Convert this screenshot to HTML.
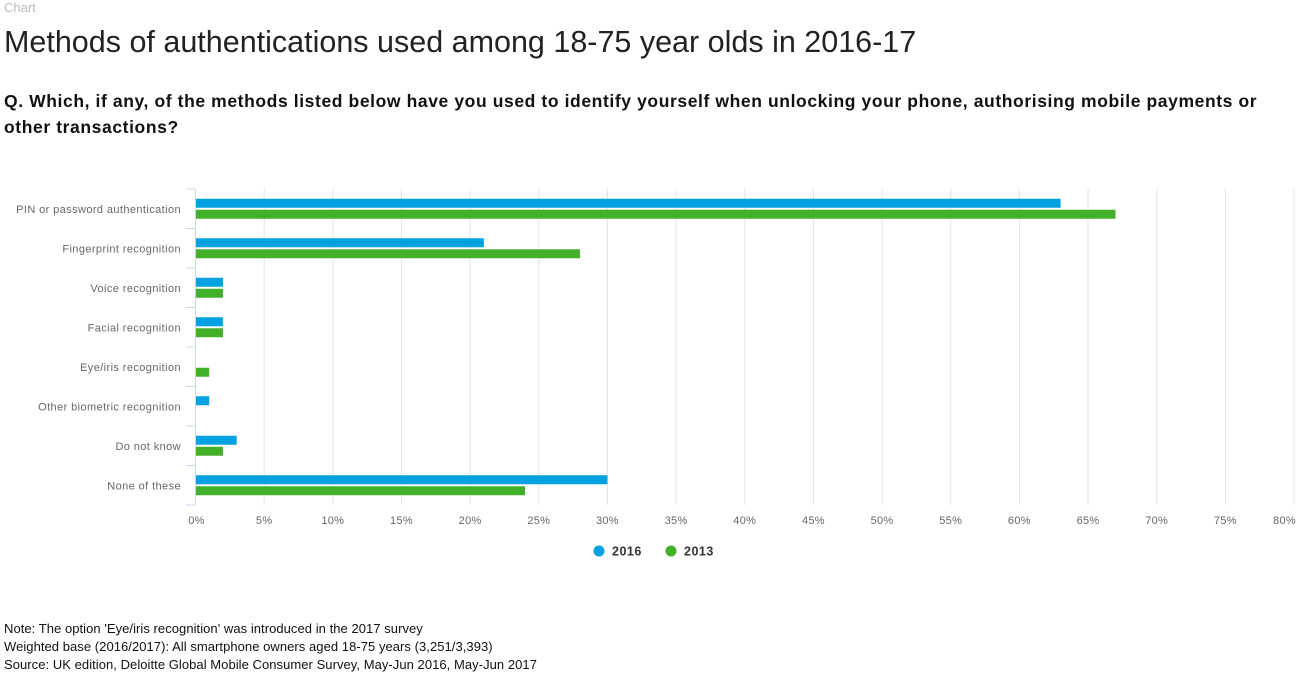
<!DOCTYPE html>
<html><head><meta charset="utf-8"><style>
body{margin:0;width:1300px;height:674px;background:#fff;font-family:"Liberation Sans",sans-serif;position:relative;overflow:hidden}
.a{position:absolute;white-space:nowrap}
</style></head><body>
<div class="a" style="left:4px;top:0px;font-size:13px;color:#bbb">Chart</div>
<div class="a" style="left:4px;top:25px;font-size:30.5px;color:#222">Methods of authentications used among 18-75 year olds in 2016-17</div>
<div class="a" style="left:4px;top:88px;font-size:17.5px;letter-spacing:0.6px;font-weight:bold;color:#111;line-height:26px;white-space:normal;width:1268px">Q. Which, if any, of the methods listed below have you used to identify yourself when unlocking your phone, authorising mobile payments or other transactions?</div>
<svg class="a" style="left:0;top:0" width="1300" height="674">
<g id="g"></g></svg>
<div class="a" style="left:4px;top:620px;font-size:13px;letter-spacing:0.05px;color:#111;line-height:18px">Note: The option 'Eye/iris recognition' was introduced in the 2017 survey<br>Weighted base (2016/2017): All smartphone owners aged 18-75 years (3,251/3,393)<br>Source: UK edition, Deloitte Global Mobile Consumer Survey, May-Jun 2016, May-Jun 2017</div>
<script>
const categories=["PIN or password authentication","Fingerprint recognition","Voice recognition","Facial recognition","Eye/iris recognition","Other biometric recognition","Do not know","None of these"];
const series2016=[63,21,2,2,null,1,3,30];
const series2013=[67,28,2,2,1,null,2,24];
const ticks=[0,5,10,15,20,25,30,35,40,45,50,55,60,65,70,75,80];
const seriesNames=["2016","2013"];
const colors=["#00a1e0","#43b02a"];
const X0=195.5,X1=1294,Y0=189,Y1=505,MAX=80;
const x=v=>X0+(X1-X0)*v/MAX;
const band=(Y1-Y0)/categories.length;
const y=i=>Y0+band*i;
const g=document.getElementById('g');const NS="http://www.w3.org/2000/svg";
function mk(t,a,txt){const e=document.createElementNS(NS,t);for(const k in a)e.setAttribute(k,a[k]);if(txt!=null)e.textContent=txt;g.appendChild(e);return e;}
ticks.forEach((t,i)=>{if(t>0){const l=mk('line',{x1:x(t),x2:x(t),y1:Y0,y2:Y1,stroke:'#e3e3e3','stroke-width':1});

}
const last=i==ticks.length-1;
const tx=mk('text',{x:last?1296:x(t)+(t==0?1:0),y:524,'text-anchor':last?'end':'middle','font-size':11,'letter-spacing':0.3,fill:'#666'},t+'%');

});
const ax=mk('line',{x1:X0,x2:X0,y1:Y0,y2:Y1,stroke:'#ccd6eb','stroke-width':1});


for(let i=0;i<=categories.length;i++){const tk=mk('line',{x1:186,x2:X0,y1:y(i),y2:y(i),stroke:'#ccd6eb'});

}
categories.forEach((c,i)=>{const cy=y(i)+band/2;
const lb=mk('text',{x:181,y:cy+4,'text-anchor':'end','font-size':11,'letter-spacing':0.4,fill:'#666'},c);


[series2016,series2013].forEach((s,k)=>{const v=s[i];if(v==null)return;
const r=mk('rect',{x:X0+0.5,y:cy-10+k*11,width:x(v)-X0-0.5,height:9,fill:colors[k]});

});});
seriesNames.forEach((n,k)=>{const lx=[599,671][k];
const c=mk('circle',{cx:lx,cy:551,r:5.5,fill:colors[k]});


const t=mk('text',{x:lx+13,y:555.5,'font-size':12.5,'font-weight':'bold','letter-spacing':0.5,fill:'#333'},n);

});
</script>
</body></html>
